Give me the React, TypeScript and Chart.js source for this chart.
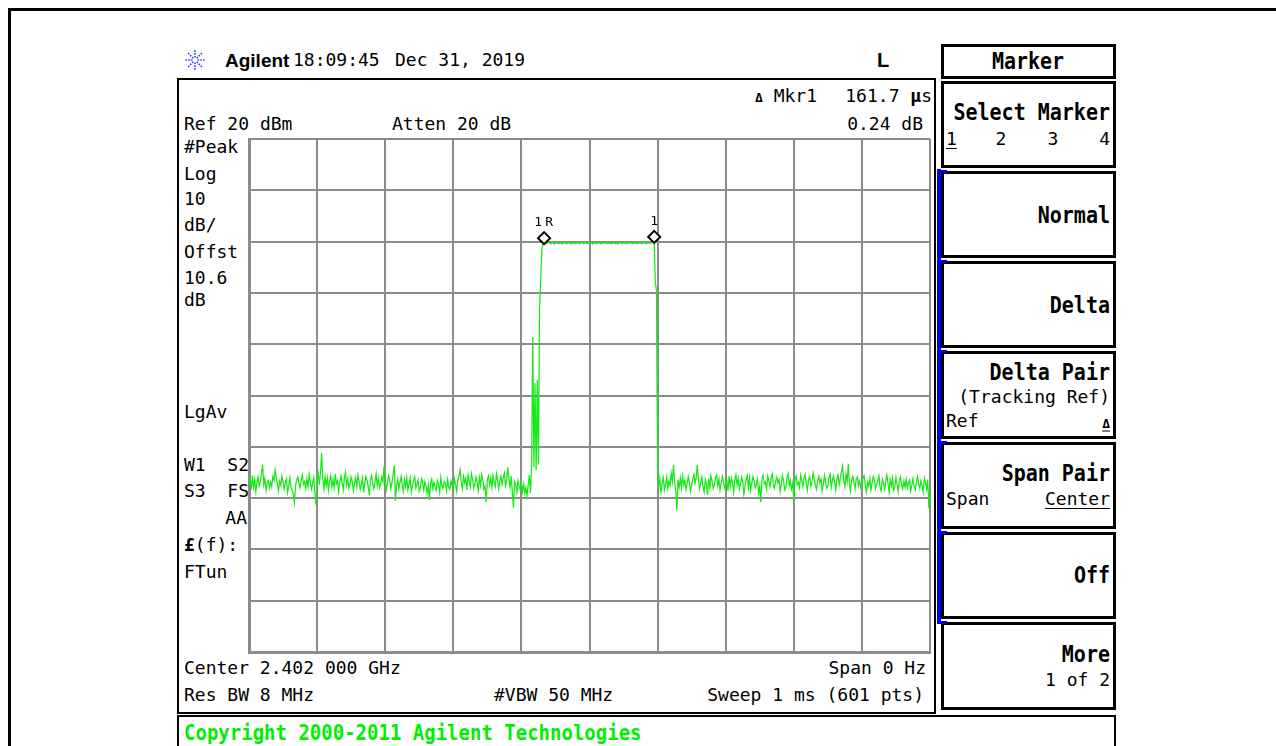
import React, { useEffect, useRef } from "react";
import { Chart, registerables } from "chart.js";

Chart.register(...registerables);

// Zero-span sweep settings
const SWEEP_POINTS = 601;
const SWEEP_TIME_US = 1000;
const REF_LEVEL_DBM = 20;
const DB_PER_DIV = 10;
const DIVISIONS = 10;

// Trace levels (dBm), in sweep order
const leftNoise = [
  -47.2, -46.1, -48.3, -45.6, -47.9, -46.4, -48.8, -47.0, -45.9, -47.6, -46.8, -45.1, -43.5, -47.4, -46.2, -48.5, -47.1, -46.6, -48.0, -46.9,
  -47.8, -45.8, -46.5, -44.5, -46.0, -47.3, -48.6, -46.7, -47.5, -45.7, -46.9, -48.2, -47.0, -46.3, -48.9, -47.7, -46.1, -47.9, -48.4, -49.2,
  -50.8, -47.6, -46.4, -45.9, -47.1, -48.0, -46.6, -45.5, -47.3, -46.8, -48.1, -46.2, -47.8, -45.4, -46.9, -48.3, -47.2, -46.0, -48.7, -51.3,
  -46.5, -45.2, -47.4, -44.8, -41.2, -46.3, -48.2, -45.9, -47.6, -46.1, -48.5, -46.7, -45.6, -47.9, -46.4, -48.0, -45.3, -47.2, -46.6, -48.8,
  -47.0, -45.7, -46.9, -48.4, -46.2, -45.0, -47.5, -46.3, -48.1, -47.3, -45.9, -46.8, -48.6, -47.1, -46.0, -47.8, -45.5, -46.7, -48.3, -47.4,
  -46.1, -48.9, -47.0, -45.8, -46.5, -47.7, -49.5, -46.4, -45.6, -47.2, -48.2, -46.9, -45.3, -47.6, -46.2, -48.0, -47.3, -45.9, -46.8, -43.8,
  -46.7, -48.4, -47.1, -45.7, -46.5, -48.1, -47.0, -45.4, -43.6, -50.5, -47.5, -46.3, -48.2, -46.9, -45.8, -47.4, -48.7, -46.4, -47.8, -46.0,
  -48.3, -47.2, -46.1, -48.8, -47.6, -46.7, -45.9, -48.0, -47.3, -46.5, -48.6, -47.9, -46.2, -47.0, -48.4, -46.8, -47.7, -49.0, -47.4, -50.4,
  -47.1, -46.3, -48.2, -46.9, -47.8, -48.5, -46.6, -47.4, -48.9, -46.0, -47.5, -48.1, -46.8, -47.2, -48.6, -46.4, -47.9, -48.3, -46.7, -47.6,
  -48.0, -46.2, -47.3, -48.7, -46.5, -45.6, -44.5, -46.9, -48.2, -45.8, -47.0, -46.1, -48.4, -45.5, -46.7, -47.9, -45.2, -46.4, -48.1, -47.2,
  -45.9, -46.8, -48.5, -46.0, -47.5, -45.4, -46.6, -48.3, -47.7, -50.8, -46.3, -45.7, -47.4, -46.1, -48.0, -45.6, -46.9, -47.8, -45.3, -46.5,
  -48.2, -46.7, -45.8, -47.3, -46.0, -45.1, -47.6, -46.4, -44.0, -46.2, -47.9, -45.7, -48.6, -51.9, -46.8, -47.5, -48.9, -46.6, -47.7, -48.4,
  -47.0, -48.8, -47.3, -49.1, -48.0, -49.5, -47.4,
];

const risingEdge = [-45.5, -49.0, -43.5, -18.6, -44.0, -27.6, -44.5, -27.0, -43.5, -13.0, -7.5, -1.5, -0.4];

const flatTop = [
  -0.3, -0.2, -0.4, -0.3, -0.1, -0.3, -0.4, -0.2, -0.3, -0.5,
  -0.3, -0.2, -0.3, -0.4, -0.3, -0.2, -0.4, -0.3, -0.1, -0.3,
  -0.4, -0.3, -0.2, -0.3, -0.5, -0.3, -0.2, -0.4, -0.3, -0.3,
  -0.2, -0.4, -0.3, -0.1, -0.3, -0.4, -0.2, -0.3, -0.3, -0.4,
  -0.3, -0.2, -0.3, -0.5, -0.3, -0.2, -0.4, -0.3, -0.2, -0.3,
  -0.4, -0.3, -0.2, -0.3, -0.1, -0.3, -0.4, -0.3, -0.2, -0.4,
  -0.3, -0.3, -0.2, -0.4, -0.3, -0.5, -0.3, -0.2, -0.3, -0.4,
  -0.2, -0.3, -0.4, -0.3, -0.2, -0.3, -0.1, -0.3, -0.4, -0.3,
  -0.3, -0.2, -0.4, -0.3, -0.2, -0.3, -0.4, -0.3, -0.2, -0.3,
  -0.4, -0.3, -0.2, -0.3, -0.3, -0.2, -0.1, -0.1,
];

const fallingEdge = [-8.0, -9.5];

const rightNoise = [
  -45.5, -47.8, -46.2, -48.9, -47.1, -46.0, -48.4, -47.3, -45.9, -48.1, -46.7, -47.6, -45.2, -46.8, -43.5, -47.0, -48.6, -52.3, -46.4, -47.9,
  -46.1, -48.0, -45.7, -47.4, -46.5, -48.3, -47.2, -45.8, -46.9, -48.7, -47.5, -46.3, -45.4, -47.1, -46.0, -43.5, -46.6, -48.2, -47.0, -45.9,
  -47.7, -48.8, -46.4, -47.3, -49.4, -46.2, -47.9, -45.6, -46.8, -48.1, -47.4, -46.0, -45.5, -47.6, -46.3, -48.4, -47.1, -45.8, -46.9, -48.0,
  -47.2, -46.5, -48.6, -45.7, -47.8, -46.1, -47.0, -48.9, -46.6, -45.4, -47.5, -46.2, -48.2, -47.3, -45.9, -46.8, -49.3, -47.6, -46.4, -45.6,
  -47.9, -46.0, -48.5, -47.1, -45.8, -46.7, -48.0, -47.4, -46.3, -49.0, -47.7, -50.8, -46.1, -45.5, -47.2, -46.9, -48.3, -45.7, -46.6, -47.8,
  -46.2, -45.3, -47.5, -48.1, -46.8, -45.9, -47.0, -46.4, -48.7, -47.3, -45.6, -46.7, -48.4, -47.9, -46.0, -45.2, -47.6, -46.5, -48.2, -47.1,
  -50.8, -46.3, -45.7, -47.4, -46.9, -48.0, -45.5, -46.6, -47.8, -46.1, -45.4, -47.2, -48.5, -46.4, -45.9, -47.7, -46.8, -45.1, -46.2, -47.5,
  -48.3, -46.7, -45.8, -47.0, -46.3, -48.6, -47.3, -45.6, -46.9, -48.1, -47.6, -46.0, -45.3, -47.9, -46.5, -45.7, -47.1, -48.4, -46.2, -45.5,
  -47.4, -46.1, -44.9, -43.8, -46.6, -47.8, -45.4, -46.8, -43.3, -47.2, -48.7, -46.4, -45.8, -47.0, -48.2, -46.3, -45.9, -47.6, -46.7, -48.0,
  -47.3, -46.0, -45.6, -47.5, -48.8, -46.9, -47.7, -46.2, -48.4, -47.1, -45.8, -46.5, -48.1, -47.4, -46.6, -45.7, -47.9, -48.6, -46.3, -47.0,
  -48.3, -46.8, -45.5, -47.2, -48.9, -46.4, -47.6, -46.1, -48.5, -47.8, -46.0, -47.3, -48.7, -46.6, -45.9, -47.5, -48.2, -46.7, -47.9, -46.3,
  -48.0, -47.1, -46.5, -48.6, -47.4, -46.2, -47.7, -48.4, -46.9, -45.8, -47.2, -48.1, -46.6, -47.5, -48.8, -46.1, -47.0, -48.3, -46.4, -52.0,
  -48.5,
];

// Delta marker pair: reference (1R) and marker 1
const markerLabels = ["1R", "1"];
const markerTimesUs = [433.3, 595.0];
const markerLevelsDb = [-0.3, -0.06];

const W = 1276;
const H = 746;
const MONO = '"DejaVu Sans Mono", "Liberation Mono", monospace';
const SANS = '"Liberation Sans", Arial, sans-serif';
const TRACE_GREEN = "#16ea16";
const GRID_GRAY = "#8c8c8c";

type TxtProps = {
  x: number;
  y: number;
  children: React.ReactNode;
  anchor?: "start" | "end" | "middle";
  size?: number;
  bold?: boolean;
  color?: string;
  font?: string;
  sy?: number;
  underline?: boolean;
};

function Txt({ x, y, children, anchor = "start", size = 18, bold = false, color = "#000", font = MONO, sy = 1, underline = false }: TxtProps) {
  const style: React.CSSProperties = {
    position: "absolute",
    top: y,
    whiteSpace: "pre",
    fontFamily: font,
    fontSize: size,
    fontWeight: bold ? 700 : 400,
    color,
    lineHeight: 1,
    textDecoration: underline ? "underline" : "none",
    textUnderlineOffset: 3,
  };
  let tx = "0";
  if (anchor === "start") style.left = x;
  else if (anchor === "end") style.right = W - x;
  else {
    style.left = x;
    tx = "-50%";
  }
  style.transform = `translate(${tx}, -50%) scaleY(${sy})`;
  return <div style={style}>{children}</div>;
}

function Box({ l, t, r, b, w = 2, color = "#000" }: { l: number; t: number; r: number; b: number; w?: number; color?: string }) {
  return (
    <div
      style={{
        position: "absolute",
        left: l,
        top: t,
        width: r - l,
        height: b - t,
        border: `${w}px solid ${color}`,
        boxSizing: "border-box",
      }}
    />
  );
}

function Fill({ l, t, w, h, color }: { l: number; t: number; w: number; h: number; color: string }) {
  return <div style={{ position: "absolute", left: l, top: t, width: w, height: h, background: color }} />;
}

function Logo({ cx, cy }: { cx: number; cy: number }) {
  const rays = [0, 45, 90, 135, 180, 225, 270, 315];
  return (
    <svg style={{ position: "absolute", left: cx - 12, top: cy - 12 }} width={24} height={24} viewBox="-12 -12 24 24">
      {rays.map((a) => {
        const rad = (a * Math.PI) / 180;
        return (
          <line
            key={a}
            x1={Math.cos(rad) * 2.5}
            y1={Math.sin(rad) * 2.5}
            x2={Math.cos(rad) * 10}
            y2={Math.sin(rad) * 10}
            stroke="#3a3aff"
            strokeWidth={1.6}
            strokeDasharray="1.6 1.2"
          />
        );
      })}
    </svg>
  );
}

const markerPlugin = {
  id: "deltaMarkers",
  afterDatasetsDraw(chart: any) {
    const { ctx, scales } = chart;
    ctx.save();
    markerTimesUs.forEach((t, i) => {
      const px = scales.x.getPixelForValue(t);
      const py = scales.y.getPixelForValue(markerLevelsDb[i]);
      const cy = py - 5;
      ctx.beginPath();
      ctx.moveTo(px, cy - 6);
      ctx.lineTo(px + 6, cy);
      ctx.lineTo(px, cy + 6);
      ctx.lineTo(px - 6, cy);
      ctx.closePath();
      ctx.fillStyle = "#fff";
      ctx.fill();
      ctx.lineWidth = 2;
      ctx.strokeStyle = "#000";
      ctx.stroke();
      ctx.fillStyle = "#000";
      ctx.font = '13px "DejaVu Sans Mono", monospace';
      ctx.textAlign = "center";
      ctx.textBaseline = "alphabetic";
      const label = markerLabels[i];
      if (label.length > 1) {
        ctx.fillText(label[0], px - 6, cy - 12);
        ctx.fillText(label[1], px + 5, cy - 12);
      } else {
        ctx.fillText(label, px, cy - 12);
      }
    });
    ctx.restore();
  },
};

function TraceChart() {
  const ref = useRef<HTMLCanvasElement>(null);
  useEffect(() => {
    const levels = [...leftNoise, ...risingEdge, ...flatTop, ...fallingEdge, ...rightNoise];
    const points = levels.slice(0, SWEEP_POINTS).map((v, i) => ({ x: (i * SWEEP_TIME_US) / (SWEEP_POINTS - 1), y: v }));
    const bottom = REF_LEVEL_DBM - DB_PER_DIV * DIVISIONS;
    const chart = new Chart(ref.current!, {
      type: "line",
      data: {
        datasets: [
          {
            data: points,
            borderColor: TRACE_GREEN,
            borderWidth: 1.25,
            pointRadius: 0,
            tension: 0,
            fill: false,
          },
        ],
      },
      options: {
        animation: false,
        responsive: false,
        devicePixelRatio: 1,
        events: [],
        layout: { padding: 2 },
        plugins: { legend: { display: false }, tooltip: { enabled: false } },
        scales: {
          x: {
            type: "linear",
            min: 0,
            max: SWEEP_TIME_US,
            ticks: { display: false, stepSize: SWEEP_TIME_US / DIVISIONS },
            grid: { color: GRID_GRAY, lineWidth: 2, drawTicks: false },
            border: { display: true, color: GRID_GRAY, width: 3 },
          },
          y: {
            type: "linear",
            min: bottom,
            max: REF_LEVEL_DBM,
            ticks: { display: false, stepSize: DB_PER_DIV },
            grid: { color: GRID_GRAY, lineWidth: 2, drawTicks: false },
            border: { display: true, color: GRID_GRAY, width: 3 },
          },
        },
      },
      plugins: [markerPlugin],
    });
    return () => chart.destroy();
  }, []);
  return <canvas ref={ref} width={685} height={517} style={{ position: "absolute", left: 247, top: 137 }} />;
}

export default function App() {
  const dT = (markerTimesUs[1] - markerTimesUs[0]).toFixed(1);
  const dL = (markerLevelsDb[1] - markerLevelsDb[0]).toFixed(2);
  const leftLabels: [string, number][] = [
    ["#Peak", 147],
    ["Log", 174],
    ["10", 199],
    ["dB/", 225],
    ["Offst", 252],
    ["10.6", 278],
    ["dB", 300],
    ["LgAv", 412],
    ["W1  S2", 465],
    ["S3  FS", 491],
  ];
  const keyTops = [81, 171, 261, 351, 442, 532, 622];
  const keyBottoms = [168, 258, 348, 439, 529, 619, 710];
  return (
    <div style={{ position: "fixed", left: 0, top: 0, width: W, height: H, overflow: "hidden", background: "#fff" }}>
      {/* outer frame */}
      <div style={{ position: "absolute", left: 8, top: 8, width: 1400, height: 900, borderLeft: "3px solid #000", borderTop: "3px solid #000" }} />

      {/* header */}
      <Logo cx={195} cy={60} />
      <Txt x={225} y={60} font={SANS} size={19} bold>Agilent</Txt>
      <Txt x={293} y={60}>18:09:45</Txt>
      <Txt x={395} y={60}>Dec 31, 2019</Txt>
      <Txt x={877} y={60} font={SANS} size={20} bold>L</Txt>

      {/* display frame */}
      <Box l={177} t={78} r={936} b={714} w={2} />

      <Txt x={755} y={96}><span style={{ fontWeight: 700, fontSize: 13 }}>Δ</span> Mkr1</Txt>
      <Txt x={932} y={96} anchor="end">{dT} <b>μ</b>s</Txt>
      <Txt x={184} y={124}>Ref {REF_LEVEL_DBM} dBm</Txt>
      <Txt x={392} y={124}>Atten 20 dB</Txt>
      <Txt x={923} y={124} anchor="end">{dL} dB</Txt>

      {leftLabels.map(([s, y]) => (
        <Txt key={s} x={184} y={y}>{s}</Txt>
      ))}
      <Txt x={247} y={518} anchor="end">AA</Txt>
      <Txt x={184} y={545}><b>£</b>(f):</Txt>
      <Txt x={184} y={572}>FTun</Txt>

      <TraceChart />

      <Txt x={184} y={668}>Center 2.402 000 GHz</Txt>
      <Txt x={926} y={668} anchor="end">Span 0 Hz</Txt>
      <Txt x={184} y={695}>Res BW 8 MHz</Txt>
      <Txt x={494} y={695}>#VBW 50 MHz</Txt>
      <Txt x={924} y={695} anchor="end">Sweep 1 ms ({SWEEP_POINTS} pts)</Txt>

      {/* status line */}
      <Box l={177} t={715} r={1116} b={780} w={2} />
      <Txt x={184} y={733} size={19} bold color="#00f000" sy={1.1}>Copyright 2000-2011 Agilent Technologies</Txt>

      {/* softkey menu */}
      <Box l={941} t={44} r={1116} b={79} w={3} />
      <Txt x={1028} y={61} anchor="middle" size={20} bold sy={1.15}>Marker</Txt>
      {keyTops.map((t, i) => (
        <Box key={t} l={941} t={t} r={1116} b={keyBottoms[i]} w={3} />
      ))}
      <Fill l={937} t={169} w={4} h={453} color="#0000ee" />
      {keyTops.slice(1).map((t) => (
        <Fill key={"b" + t} l={937} t={t - 1} w={10} h={3} color="#0000ee" />
      ))}

      <Txt x={1110} y={112} anchor="end" size={20} bold sy={1.15}>Select Marker</Txt>
      <Txt x={946} y={139} underline>1</Txt>
      <Txt x={1001} y={139} anchor="middle">2</Txt>
      <Txt x={1053} y={139} anchor="middle">3</Txt>
      <Txt x={1110} y={139} anchor="end">4</Txt>

      <Txt x={1110} y={215} anchor="end" size={20} bold sy={1.15}>Normal</Txt>
      <Txt x={1110} y={305} anchor="end" size={20} bold sy={1.15}>Delta</Txt>

      <Txt x={1110} y={372} anchor="end" size={20} bold sy={1.15}>Delta Pair</Txt>
      <Txt x={1110} y={397} anchor="end">(Tracking Ref)</Txt>
      <Txt x={946} y={421}>Ref</Txt>
      <Txt x={1110} y={423} anchor="end" size={13} bold underline>Δ</Txt>

      <Txt x={1110} y={473} anchor="end" size={20} bold sy={1.15}>Span Pair</Txt>
      <Txt x={946} y={499}>Span</Txt>
      <Txt x={1110} y={499} anchor="end" underline>Center</Txt>

      <Txt x={1110} y={575} anchor="end" size={20} bold sy={1.15}>Off</Txt>

      <Txt x={1110} y={654} anchor="end" size={20} bold sy={1.15}>More</Txt>
      <Txt x={1110} y={680} anchor="end">1 of 2</Txt>
    </div>
  );
}
